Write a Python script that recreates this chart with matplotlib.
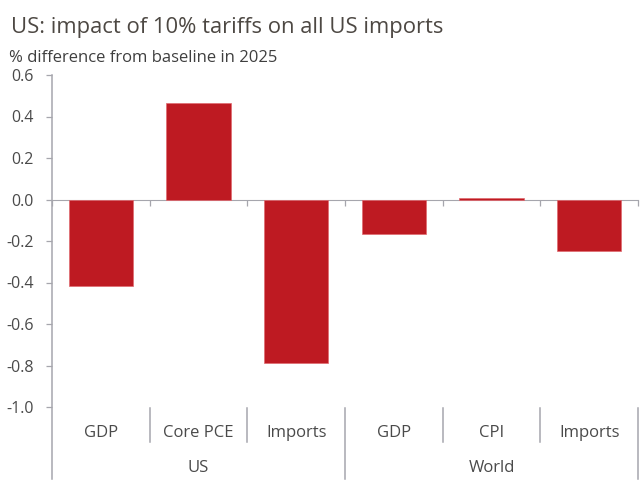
import matplotlib
matplotlib.use("Agg")
from matplotlib import pyplot as plt
import numpy as np

# data
categories = ["GDP", "Core PCE", "Imports", "GDP", "CPI", "Imports"]
groups = ["US", "World"]
group_sizes = [3, 3]
values = [-0.415, 0.463, -0.79, -0.166, 0.005, -0.247]
yticks = [0.6, 0.4, 0.2, 0.0, -0.2, -0.4, -0.6, -0.8, -1.0]

plt.rcParams['font.family'] = ['Open Sans', 'DejaVu Sans']
plt.rcParams['axes.unicode_minus'] = False

bar_col = '#be1a22'
axis_col = '#a6a6ad'
text_col = '#4a4a4a'

fig = plt.figure(figsize=(6.42, 5.04), dpi=100)
ax = fig.add_axes([52/642, 1-407/504, (638-52)/642, (407-75)/504])

x = np.arange(len(categories))
ax.bar(x, values, width=0.66, color=bar_col, edgecolor='#e06a70', linewidth=0.5, zorder=2)

ax.set_xlim(-0.5, len(categories) - 0.5)
ax.set_ylim(-1.0, 0.6)
ax.set_yticks(yticks)
ax.set_yticklabels([f"{v:.1f}" for v in yticks])

for s in ['top', 'right']:
    ax.spines[s].set_visible(False)
ax.spines['bottom'].set_position(('data', 0))
ax.spines['bottom'].set_color(axis_col)
ax.spines['bottom'].set_zorder(1)
ax.spines['left'].set_visible(False)

ax.tick_params(axis='y', colors=axis_col, labelcolor=text_col, labelsize=11.5,
               length=4, width=0.9, pad=9)
ax.set_xticks(np.arange(len(categories) + 1) - 0.5)
ax.set_xticklabels([])
ax.tick_params(axis='x', colors=axis_col, length=4, width=0.9, direction='out')

# left spine drawn long so it runs down past the category labels
trans = ax.get_xaxis_transform()
ax.plot([-0.5, -0.5], [1.0, -0.217], transform=trans, color=axis_col,
        lw=1.1, clip_on=False)

# category labels and dividers under the plot
for i, c in enumerate(categories):
    ax.text(i, -0.077, c, transform=trans, ha='center', va='center',
            fontsize=12, color=text_col)
edges = np.cumsum(group_sizes)
for b in range(1, len(categories) + 1):
    bx = b - 0.5
    low = -0.217 if b in edges else -0.105
    ax.plot([bx, bx], [-0.003, low], transform=trans, color=axis_col,
            lw=1.1, clip_on=False)
start = 0
for g, n in zip(groups, group_sizes):
    ax.text(start + (n - 1) / 2, -0.185, g, transform=trans, ha='center',
            va='center', fontsize=12, color=text_col)
    start += n

fig.text(11/642, 1-33/504, "US: impact of 10% tariffs on all US imports",
         fontsize=15.8, color='#4d4843', va='baseline')
fig.text(9/642, 1-62/504, "% difference from baseline in 2025",
         fontsize=12, color='#3f3f3f', va='baseline')

fig.savefig("out.png", dpi=100)
